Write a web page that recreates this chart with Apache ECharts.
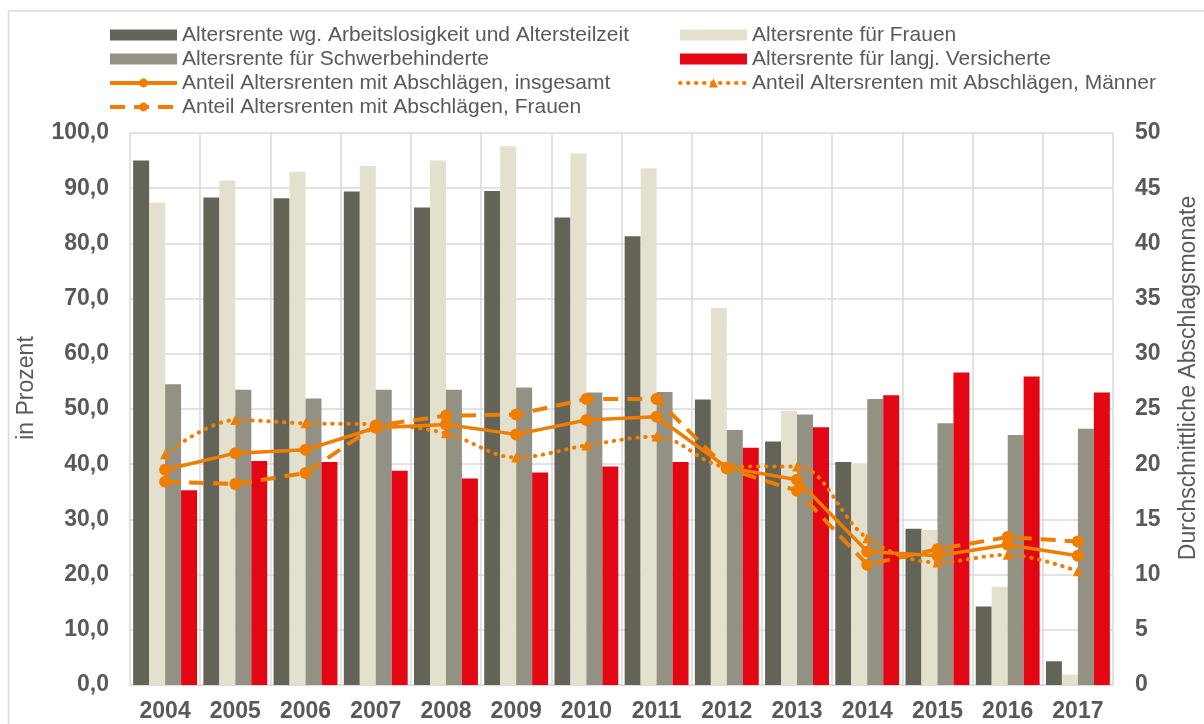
<!DOCTYPE html>
<html>
<head>
<meta charset="utf-8">
<script src="https://cdn.jsdelivr.net/npm/echarts@6/dist/echarts.min.js"></script>
<style>
html,body{margin:0;padding:0;background:#fff;}
#chart{width:1204px;height:724px;}
</style>
</head>
<body>
<div id="chart"></div>
<script>
const years = ['2004','2005','2006','2007','2008','2009','2010','2011','2012','2013','2014','2015','2016','2017'];
const leftTicks = [0,10,20,30,40,50,60,70,80,90,100];
const rightTicks = [0,5,10,15,20,25,30,35,40,45,50];

const arbeitslos = [95.0,88.3,88.2,89.4,86.5,89.5,84.7,81.3,51.7,44.1,40.4,28.3,14.2,4.3];
const frauenRente = [87.4,91.4,93.0,94.0,95.0,97.6,96.3,93.6,68.3,49.7,40.0,28.1,17.8,1.9];
const schwerbeh = [54.5,53.5,51.9,53.5,53.5,53.9,53.0,53.1,46.2,49.0,51.8,47.4,45.3,46.4];
const langjVers = [35.3,40.6,40.4,38.8,37.4,38.5,39.6,40.4,43.0,46.7,52.5,56.6,55.9,53.0];

const insgesamt = [19.5,21.0,21.3,23.3,23.6,22.7,24.0,24.3,19.7,18.6,12.1,11.7,12.7,11.7];
const maenner = [20.9,24.0,23.7,23.6,22.8,20.6,21.7,22.5,19.8,19.8,13.3,11.1,11.8,10.3];
const frauen = [18.4,18.2,19.2,23.5,24.4,24.5,25.9,25.9,19.6,17.6,10.9,12.3,13.4,13.0];

const names = [
  'Altersrente wg. Arbeitslosigkeit und Altersteilzeit',
  'Altersrente für Frauen',
  'Altersrente für Schwerbehinderte',
  'Altersrente für langj. Versicherte',
  'Anteil Altersrenten mit Abschlägen, insgesamt',
  'Anteil Altersrenten mit Abschlägen, Männer',
  'Anteil Altersrenten mit Abschlägen, Frauen'
];
const leftAxisName = 'in Prozent';
const rightAxisName = 'Durchschnittliche Abschlagsmonate';

const ORANGE = '#EF7D00';
const GRID = '#d9d9d9';
const TXT = '#595959';
const FONT = '"Liberation Sans", Arial, sans-serif';

const chart = echarts.init(document.getElementById('chart'));

function bar(name, data, color) {
  return {name, type: 'bar', data, yAxisIndex: 0, barGap: '0%', barCategoryGap: '9%',
    itemStyle: {color}};
}

const legendCommon = {
  orient: 'vertical', itemWidth: 67, itemHeight: 11, itemGap: 0,
  textStyle: {color: TXT, fontSize: 21, fontFamily: FONT, lineHeight: 24},
  lineStyle: {width: 4},
  selectedMode: false
};

function legendItems(list) {
  return list.map(n => n.startsWith('Altersrente') ? {name: n, icon: 'rect'} : {name: n});
}

chart.setOption({
  animation: false,
  textStyle: {fontFamily: FONT},
  graphic: [
    {type: 'rect', shape: {x: 8.5, y: 11, width: 1230, height: 730},
      style: {fill: 'none', stroke: GRID, lineWidth: 1.5}, silent: true},
    {type: 'text', x: 27, y: 388, rotation: Math.PI / 2,
      style: {text: leftAxisName, fill: TXT, font: '23px ' + FONT, align: 'center', verticalAlign: 'middle'}},
    {type: 'text', x: 1189, y: 378, rotation: Math.PI / 2,
      style: {text: rightAxisName, fill: TXT, font: '23px ' + FONT, align: 'center', verticalAlign: 'middle'}}
  ],
  legend: [
    Object.assign({left: 103, top: 18, data: legendItems([names[0], names[2], names[4], names[6]])}, legendCommon),
    Object.assign({left: 673, top: 18, data: legendItems([names[1], names[3], names[5]])}, legendCommon)
  ],
  grid: {left: 130, right: 91, top: 133, bottom: 39},
  xAxis: {
    type: 'category', data: years,
    axisLine: {show: true, lineStyle: {color: GRID, width: 1.5}},
    axisTick: {show: false},
    splitLine: {show: true, lineStyle: {color: GRID, width: 1.5}},
    axisLabel: {color: TXT, fontSize: 23, fontWeight: 'bold', margin: 15, fontFamily: FONT}
  },
  yAxis: [
    {
      type: 'value', min: 0, max: 100, interval: 10,
      axisLine: {show: false}, axisTick: {show: false},
      splitLine: {lineStyle: {color: GRID, width: 1.5}},
      axisLabel: {color: TXT, fontSize: 23, fontWeight: 'bold', margin: 21, fontFamily: FONT,
        formatter: v => v.toFixed(1).replace('.', ',')}
    },
    {
      type: 'value', min: 0, max: 50, interval: 5,
      axisLine: {show: false}, axisTick: {show: false},
      splitLine: {show: false},
      axisLabel: {color: TXT, fontSize: 23, fontWeight: 'bold', margin: 22, fontFamily: FONT}
    }
  ],
  series: [
    bar(names[0], arbeitslos, '#646358'),
    bar(names[1], frauenRente, '#E3E1CD'),
    bar(names[2], schwerbeh, '#929184'),
    bar(names[3], langjVers, '#E30613'),
    {name: names[4], type: 'line', yAxisIndex: 1, data: insgesamt,
      symbol: 'circle', symbolSize: 12, itemStyle: {color: ORANGE},
      lineStyle: {color: ORANGE, width: 3.5}},
    {name: names[5], type: 'line', yAxisIndex: 1, data: maenner, smooth: 0.35,
      symbol: 'triangle', symbolSize: 10, itemStyle: {color: ORANGE},
      lineStyle: {color: ORANGE, width: 4, type: [0.5, 7.5], cap: 'round'}},
    {name: names[6], type: 'line', yAxisIndex: 1, data: frauen,
      symbol: 'circle', symbolSize: 12, itemStyle: {color: ORANGE},
      lineStyle: {color: ORANGE, width: 4, type: [15, 9]}}
  ]
});
</script>
</body>
</html>
